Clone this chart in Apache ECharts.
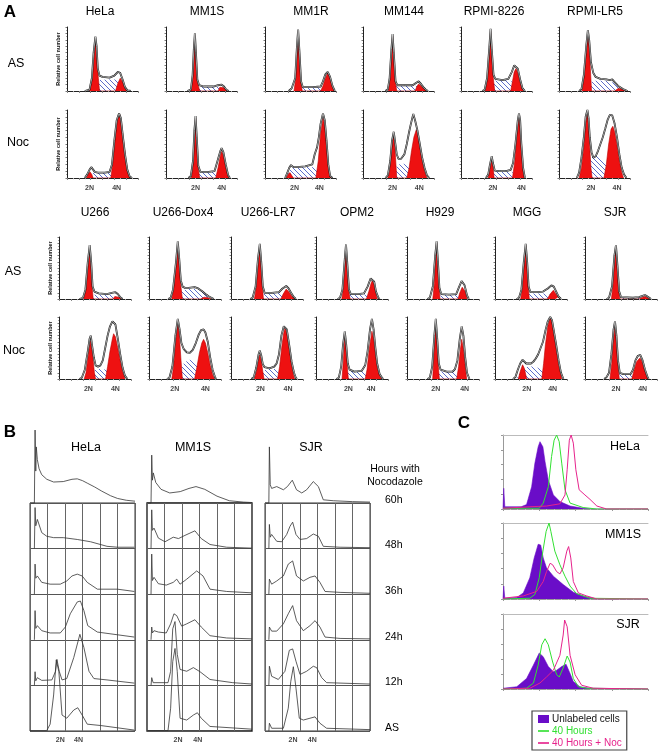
<!DOCTYPE html>
<html><head><meta charset="utf-8">
<script src="https://cdn.jsdelivr.net/npm/echarts@6/dist/echarts.min.js"></script>
<style>html,body{margin:0;padding:0;background:#fff}#c{width:662px;height:754px}</style>
</head><body><div id="c"></div><script>
// ===================== DATA =====================
const topCells = ['HeLa','MM1S','MM1R','MM144','RPMI-8226','RPMI-LR5'];
const botCells = ['U266','U266-Dox4','U266-LR7','OPM2','H929','MGG','SJR'];
const rowNames = ['AS','Noc'];
const ploidyLabels = ['2N','4N'];
const topPloidyX = [[19,42],[25,47],[25,46],[25,47.5],[27,51],[27,49]];
const botPloidyX = [[24.5,47],[21.5,47],[24.5,47.5],[27,46],[24,48],[26.5,48],[25.8,48]];

// --- Panel A, top group, AS row ---
const topAsOutline = [
 [[15,0],[19,2],[21,20],[22.5,60],[24,85],[25,70],[26,35],[27.5,24],[30,22],[36,21],[40,24],[43,30],[45,28],[47,18],[49,6],[51,1],[54,0]],
 [[18,0],[21,2],[22.5,25],[23.5,65],[24.4,90],[25.3,60],[26.5,18],[28,9],[32,7],[40,7],[44,9],[47,10],[49,7],[51,2],[53,0]],
 [[20,0],[22.5,4],[24,4],[25.5,20],[27,70],[28,96],[29,65],[30.5,15],[32,6],[40,6],[47,7],[49,15],[51,26],[53,30],[55,22],[57,8],[59,0]],
 [[19,0],[21,3],[22.5,20],[24,65],[25,89],[26,60],[27.5,15],[29,9],[35,9],[42,9],[45,13],[47,15],[49,11],[51,6],[53,2],[55,0]],
 [[18,0],[20,2],[22,20],[24,70],[25,97],[26,65],[27.5,25],[29,19],[35,17],[40,19],[43,30],[45,40],[46.5,42],[48,35],[50,18],[52,4],[54,0]],
 [[17,0],[19,3],[21,25],[23,70],[24.4,95],[25.5,80],[27,45],[29,28],[31,22],[35,19],[40,18],[43,17],[45,18],[47,14],[50,8],[54,3],[58,0]]
];
const topAsRed = [
 [[19,0],[21.5,20],[23,55],[24,78],[25,60],[26.5,20],[27.5,0],[41,0],[43,12],[45,20],[47,14],[49,4],[51,0]],
 [[21,0],[22.5,20],[23.5,60],[24.4,87],[25.3,55],[26.5,15],[28.5,0],[44,0],[45.5,6],[47,9],[49,5],[52,0]],
 [[24.5,0],[26,20],[27.2,65],[28,93],[29,60],[30.3,15],[31.5,0],[47,0],[49,8],[51,20],[53,28],[55,20],[57,6],[59,0]],
 [[21.5,0],[23,20],[24.2,65],[25,86],[26,55],[27.3,15],[28.5,0],[44,0],[45.5,7],[47,11],[49,8],[51,4],[54,0]],
 [[20.5,0],[22.5,20],[24,65],[25,93],[26,60],[27.3,20],[28.5,0],[42,0],[43.5,15],[45,30],[46.5,35],[48,28],[50,13],[52.5,0]],
 [[19.5,0],[21,20],[23,60],[24.4,89],[25.5,70],[26.5,35],[27.5,0],[47,0],[50,4],[54,3],[58,0]]
];
const topAsS = [
 [[23,0],[25,10],[27,17],[35,18],[42,18],[46,12],[49,3],[50,0]],
 [[25,0],[27,5],[29,7],[40,7],[45,6],[49,2],[50,0]],
 [[28,0],[30,4],[32,6],[44,6],[50,5],[54,2],[55,0]],
 [[25,0],[27,6],[29,9],[42,9],[47,7],[50,2],[51,0]],
 [[24,0],[26,10],[28,16],[40,17],[44,14],[48,6],[50,0]],
 [[23,0],[25,8],[27,14],[30,16],[42,16],[47,12],[52,5],[55,0]]
];
// --- Panel A, top group, Noc row ---
const topNocOutline = [
 [[15,0],[17,5],[19,12],[20.5,16],[22,15],[23.5,9],[26,8],[32,8],[36,9],[38,20],[40,55],[42,85],[44,95],[45.5,88],[47,65],[49,35],[51,12],[53,2],[55,0]],
 [[19,0],[21,3],[22.8,25],[24,70],[25,91],[26,60],[27.3,18],[29,9],[36,9],[41,10],[43.5,25],[46,40],[47,44],[48.5,38],[50.5,20],[52.5,4],[54,0]],
 [[17,0],[18.5,6],[20.5,15],[22,19],[24,16],[27,16],[34,17],[40,20],[42,35],[44,45],[45.5,60],[47,80],[49,95],[50.5,85],[52,55],[53.5,20],[55,3],[57,0]],
 [[19,0],[21,4],[23,25],[24.5,55],[26,68],[27,55],[28.5,35],[30,28],[32,28],[35,35],[37,50],[39,68],[40.5,80],[42.5,94],[44,85],[46,70],[48,50],[50,30],[52,15],[54,4],[56,0]],
 [[21,0],[23,5],[24.5,20],[26,32],[27,22],[28.5,11],[32,10],[38,10],[42,12],[44,22],[46,50],[48,85],[49,95],[50,85],[51,50],[52.5,15],[54,0]],
 [[15,0],[17,8],[19,30],[21,60],[22.5,90],[24,100],[25,88],[26,60],[27.5,38],[29,30],[31,32],[33,40],[35,50],[37,60],[39,72],[41,85],[43,93],[45,92],[47,80],[49,60],[51,35],[53,15],[55,5],[57,0]]
];
const topNocRed = [
 [[16.5,0],[18,6],[19.5,9],[21,5],[22,0],[37,0],[39,25],[41,65],[43,88],[44.5,93],[46,80],[48,50],[50,22],[52,5],[53.5,0]],
 [[21.5,0],[23,22],[24.2,68],[25,88],[26,55],[27.2,15],[28.5,0],[42,0],[44,15],[46,33],[47,39],[48.5,33],[50.5,15],[53,0]],
 [[18,0],[19.5,5],[21,8],[22.5,4],[24,0],[43,0],[45,25],[47,65],[49,88],[50.5,78],[52,50],[53.5,18],[55,3],[56,0]],
 [[21,0],[22.5,10],[24,40],[25.5,60],[26.5,55],[27.5,30],[28.5,0],[37,0],[39,15],[41,40],[43,60],[45,71],[46.5,65],[48,45],[50,25],[52,10],[54,0]],
 [[23,0],[24.5,14],[26,27],[27,18],[28,0],[43.5,0],[45.5,25],[47.5,70],[49,89],[50,75],[51,42],[52.5,10],[53.5,0]],
 [[17,0],[19,15],[21,45],[22.5,80],[24,95],[25,80],[26,45],[27,15],[28,0],[38,0],[40,20],[42,50],[44,72],[45.5,76],[47,68],[49,48],[51,25],[53,8],[54.5,0]]
];
const topNocS = [
 [[19,0],[21,6],[23,8],[36,8],[42,7],[46,3],[48,0]],
 [[25,0],[27,6],[29,9],[40,9],[44,7],[47,2],[48,0]],
 [[18.5,0],[20,8],[22,14],[25,16],[40,16],[45,10],[49,3],[51,0]],
 [[23,0],[26,12],[30,20],[34,21],[38,19],[42,14],[45,7],[47,0]],
 [[25,0],[27,8],[29,11],[40,11],[44,8],[47,2],[48,0]],
 [[19,0],[22,15],[26,28],[30,33],[34,32],[38,27],[42,18],[46,9],[50,2],[52,0]]
];
// --- Panel A, bottom group, AS row ---
const botAsOutline = [
 [[17,0],[20,2],[22,15],[24,60],[25.6,87],[26.8,60],[28,20],[29.5,12],[33,9],[40,8],[44,10],[47,11],[49,8],[51,3],[53,0]],
 [[16,0],[18,2],[20,15],[22.5,60],[24,93],[25.2,65],[26.5,30],[28,20],[30,18],[33,18],[38,19],[41,17],[44,13],[47,8],[50,4],[54,0]],
 [[16,0],[18,2],[20.5,20],[22.5,65],[24,89],[25.2,60],[26.5,20],[28,10],[34,10],[40,11],[43,17],[46,21],[48,17],[50,10],[52,4],[54,0]],
 [[18,0],[20,2],[22,15],[24,65],[25,88],[26,60],[27.5,15],[29,8],[35,8],[40,9],[43,20],[45.5,33],[47,36],[48.5,28],[50,12],[52,2],[53,0]],
 [[17,0],[19,2],[21.5,20],[23.5,70],[24.7,93],[25.8,60],[27,18],[28.5,8],[35,7],[41,8],[43.5,20],[45.5,29],[46.5,30],[48,22],[50,6],[51.5,0]],
 [[18,0],[20,2],[22,15],[24,60],[25.6,89],[26.8,60],[28,20],[29.5,11],[35,11],[40,12],[44,17],[47,22],[49,20],[51,12],[53,4],[55,0]],
 [[18,0],[20,2],[22.5,20],[24.5,70],[25.8,87],[27,55],[28.5,12],[30,3],[40,2],[45,3],[48,5],[50,6.5],[52,4],[55,0]]
];
const botAsRed = [
 [[20.5,0],[22.5,15],[24.3,55],[25.6,76],[26.8,50],[27.8,15],[28.5,0],[45,0],[46.5,4],[48,6],[50,3],[52,0]],
 [[19,0],[20.5,15],[22.5,55],[24,89],[25.2,60],[26.5,22],[27.8,0],[43,0],[46,3],[49,2],[52,0]],
 [[19.5,0],[21,18],[22.8,60],[24,86],[25.2,55],[26.3,18],[27,0],[41.6,0],[43.5,8],[46,16],[48,12],[50.5,5],[53,0]],
 [[21.5,0],[23,18],[24.2,65],[25,85],[26,55],[27.3,12],[28.5,0],[42,0],[44,12],[46,26],[47,30],[48.5,22],[50,8],[51,0]],
 [[21.5,0],[22.8,25],[24,75],[24.7,90],[25.6,60],[26.8,18],[27.5,0],[42.5,0],[44,10],[46,19],[47,21],[48.5,12],[50,0]],
 [[21.4,0],[23,18],[24.5,62],[25.6,86],[26.8,55],[27.8,18],[28.6,0],[43.6,0],[46,8],[48.6,14],[50.5,9],[52.5,3],[54,0]],
 [[22,0],[23.5,25],[25,72],[25.8,85],[26.8,55],[28,15],[29,0],[45,0],[48,3],[50,4],[52,2],[54,0]]
];
const botAsS = [
 [[25,0],[27,4],[29,7],[40,7.5],[45,6],[49,2],[50,0]],
 [[23,0],[25,8],[28,14],[34,16],[40,16],[45,11],[49,4],[51,0]],
 [[24,0],[26,6],[28,10],[40,10],[45,7],[49,2],[50,0]],
 [[25,0],[27,5],[29,7.5],[40,7.5],[43,5],[46,1],[46.5,0]],
 [[25,0],[27,5],[29,6.5],[41,6.5],[45,4],[48,0]],
 [[25,0],[27,6],[29,9],[42,9],[47,6],[50,2],[51,0]],
 [[27,0],[29,2],[35,2.5],[45,2.5],[50,1],[52,0]]
];
// --- Panel A, bottom group, Noc row ---
const botNocOutline = [
 [[17,0],[19,2],[21.5,15],[24,45],[25.5,65],[26.5,70],[27.5,55],[29,35],[30.5,22],[32.5,20],[34.5,22],[36.5,30],[38.5,50],[40.5,70],[42.5,85],[44.5,93],[45.5,95],[47,88],[49,65],[51,40],[53,18],[55,5],[57,0]],
 [[15,0],[17,2],[19.5,20],[22,70],[24,97],[25.5,80],[27,58],[29,48],[31.5,43],[34,42],[36.5,47],[39,58],[41.5,72],[43.5,79],[45.5,80],[47,75],[49,60],[51,35],[53,15],[55,3],[56,0]],
 [[17,0],[19,3],[21,18],[23,40],[24,46],[25.2,38],[26.5,24],[28,19],[32,17],[36,20],[38,25],[40,40],[42,70],[44,85],[45,88],[46.5,80],[48.5,55],[50.5,28],[52.5,10],[54,2],[55,0]],
 [[17,0],[19,2],[21,20],[22.5,55],[24,77],[25.2,55],[26.5,25],[28,15],[32,12],[38,13],[41,22],[43,45],[45,80],[46.6,97],[48,80],[49.5,50],[51,25],[53,8],[55,2],[56,0]],
 [[17,0],[19,2],[21,20],[22.8,70],[24,97],[25.2,65],[26.5,25],[28,15],[33,12],[38,12],[40,16],[42,30],[44,65],[45.6,85],[47,70],[48.5,35],[50,10],[52,0]],
 [[15,0],[17,3],[19,15],[21,25],[23,31],[24.5,28],[26,25],[28,25],[30,25],[32,28],[34,33],[36,40],[38,50],[40,60],[42,78],[44,93],[46,100],[47.5,95],[49,78],[51,55],[53,30],[55,10],[57,0]],
 [[16,0],[18,3],[20,10],[22,40],[23.8,80],[25,93],[26.2,70],[27.5,30],[29,10],[32,8],[38,8],[40,15],[42,30],[44,37],[46,39],[48,30],[50,15],[52,4],[53,0]]
];
const botNocRed = [
 [[21,0],[22.5,10],[24.5,40],[26,62],[27,60],[28,40],[29.5,10],[30.5,0],[38.8,0],[40.5,20],[42.5,45],[44.5,65],[45.5,73],[47,68],[49,50],[51,30],[53,12],[55,0]],
 [[19,0],[20.5,20],[22.5,65],[24,93],[25.3,70],[26.5,35],[27.8,0],[38,0],[40,20],[42,42],[44,58],[45.5,64],[47,58],[49,42],[51,22],[53,7],[54.6,0]],
 [[19.5,0],[21.5,15],[23,32],[24,39],[25.2,30],[26.5,12],[27.5,0],[38.8,0],[40.5,20],[42.5,55],[44,75],[45,82],[46.5,74],[48.5,48],[50.5,22],[52,7],[53,0]],
 [[21.7,0],[22.8,30],[24,72],[25.2,50],[26.3,15],[27,0],[41,0],[42.5,15],[44.5,50],[46.6,77],[48,65],[49.5,40],[51,18],[53,5],[54.7,0]],
 [[21.4,0],[22.5,40],[23.9,92],[25,60],[26.2,18],[27,0],[41.4,0],[43,20],[44.5,48],[45.6,64],[47,48],[48.5,20],[49.7,0]],
 [[19.4,0],[21,12],[23,23],[24.5,17],[26.4,0],[39,0],[40.5,25],[42,55],[44,85],[46,99],[47.5,92],[49,72],[51,48],[53,22],[55,6],[55.6,0]],
 [[20.8,0],[22.3,25],[23.8,65],[25,83],[26.2,60],[27.5,22],[28.6,0],[39,0],[41,15],[43,28],[45.8,34],[47.5,28],[49.5,15],[51.5,4],[52.7,0]]
];
const botNocS = [
 [[23.6,0],[26,8],[29,14],[33,16],[37,16],[41,13],[45,8],[49,3],[52,0]],
 [[22,0],[25,12],[29,25],[33,31],[37,30],[41,24],[45,14],[48,6],[50,0]],
 [[22,0],[24,8],[27,14],[32,16],[38,16],[43,12],[47,5],[50,0]],
 [[23,0],[25,9],[28,13],[38,13.6],[42,10],[45,4],[47,0]],
 [[23,0],[25,8],[28,12],[38,12],[42,8],[45,2],[46,0]],
 [[18,0],[20,8],[23,16],[28,20],[33,20],[38,16],[42,10],[45,4],[47,0]],
 [[25,0],[27,5],[29,8],[38,8],[42,6],[47,2],[50,0]]
];

// --- Panel B: hours with nocodazole, one trace per row (60h .. AS) ---
const bCells = ['HeLa','MM1S','SJR'];
const bHours = ['60h','48h','36h','24h','12h','AS'];
const bPloidyX = [[17.3,27.7],[17.7,29],[16,27]];
const bHela = [
 [[0,0],[2.5,0],[2.9,160],[3.3,70],[3.6,123],[4.2,95],[5.2,75],[6.7,62],[9.6,52],[13.5,46],[19,47],[24,52],[27,53],[30,49],[33,43],[37,35],[41,26],[46,16],[50,10],[55,6],[60,4]],
 [[2.5,0],[2.9,90],[3.3,50],[4.2,64],[6.7,35],[9.6,27],[13.5,24],[19,24],[27,20],[34.6,15],[44,5],[50,3],[59.6,3]],
 [[2.5,0],[2.9,66],[3.3,35],[4.2,40],[6.7,26],[11.5,22],[17.3,22],[21,29],[24,40],[27,44],[29.8,40],[32.7,26],[38.5,11],[50,11],[59.6,6]],
 [[2.5,0],[2.9,64],[3.3,25],[4.2,31],[6.7,20],[11.5,15],[17.3,15],[20.2,28],[23,57],[27,83],[28.8,85],[30.8,64],[33,31],[38.5,17],[50,11],[59.6,6]],
 [[2.5,0],[2.9,30],[3.3,10],[4.2,17],[6.7,11],[12.5,12],[14.6,31],[15.4,57],[16.7,31],[18.3,12],[21,15],[25,61],[28.5,112],[30.8,83],[33.7,31],[36.5,15],[44,12],[59.6,5]],
 [[0,1],[9.6,1],[11.5,15],[13.5,79],[15,156],[16.5,130],[18.3,35],[21,28],[25,46],[27.3,51],[29.8,35],[32.7,15],[40.4,12],[59.6,2]]
];
const bMm1s = [
 [[0,0],[2.3,0],[2.7,105],[3.1,50],[3.6,66],[5,45],[8,30],[13,22],[19,25],[24,32],[28,36],[33,30],[40,15],[47,5],[55,2],[60,1]],
 [[2.3,0],[2.7,85],[3.1,40],[4,45],[6.5,23],[10.3,15],[15,25],[18,22],[21.7,29],[27.4,39],[31,22],[36,9],[45.5,3],[60,1]],
 [[2.3,0],[2.7,88],[3.1,30],[4,37],[6.5,23],[11,20],[15,26],[17,33],[18.9,22],[22.7,33],[28.4,51],[32,40],[36,11],[45.5,6],[60,3]],
 [[2.3,0],[2.7,28],[3.1,15],[4,20],[6.5,17],[11,15],[13.5,35],[15.4,57],[17,53],[19.8,30],[22.7,35],[27.4,44],[31,28],[36,9],[45.5,4],[60,2]],
 [[2.3,0],[2.7,17],[3.5,6],[12,6],[13.5,31],[14.7,124],[16,140],[17.3,68],[18.9,35],[22.7,31],[26.5,39],[30.3,30],[36,13],[49,6],[60,3]],
 [[0,1],[12,1],[13.5,50],[14.7,152],[16,181],[17.3,130],[18.9,28],[22.7,24],[26.5,35],[28.8,40],[31,28],[36,10],[60,4]]
];
const bSjr = [
 [[0,0],[2.2,0],[2.5,123],[3,40],[3.8,32],[6.7,36],[10.5,29],[12.8,36],[15.6,50],[18,29],[21,22],[23.8,29],[27.6,47],[30.5,36],[33.3,7],[39,5],[50,3],[60,2]],
 [[2.2,0],[2.5,53],[3,25],[3.8,31],[6.7,16],[9.5,15],[12.4,31],[14.3,49],[15.8,58],[17.7,31],[20,20],[23.8,22],[27.6,32],[30.5,27],[33.3,5],[42.9,3],[60,2]],
 [[2.2,0],[2.5,33],[3.8,22],[6.7,29],[10.5,40],[13.3,66],[15.8,73],[18,40],[21.9,29],[25.7,37],[28.6,40],[31.4,26],[34.3,6],[42.9,4],[60,2]],
 [[2.2,0],[2.5,28],[3.8,19],[6.7,19],[10.5,35],[13.3,57],[15.8,75],[18,42],[21.9,20],[25.7,31],[28.6,42],[31.4,28],[34.3,6],[42.9,3],[60,2]],
 [[2.2,0],[2.5,42],[3.8,20],[7.6,13],[11.4,31],[13.9,77],[15.8,80],[17.7,53],[20,24],[23.8,31],[27.6,42],[29.5,39],[32.4,17],[35.2,6],[60,3]],
 [[2.2,0],[2.5,17],[3.8,6],[10.5,6],[13.3,50],[14.7,108],[16.2,141],[17.7,94],[19.6,28],[21.9,24],[25.7,28],[28.6,31],[31.4,17],[35.2,6],[60,3]]
];

// --- Panel C: log fluorescence (decades 0..4) ---
const cCells = ['HeLa','MM1S','SJR'];
const cSeriesNames = ['Unlabeled cells','40 Hours','40 Hours + Noc'];
const cUnlabeled = [
 [[0,0],[0.02,28],[0.05,3],[0.5,3],[0.65,6],[0.79,30],[0.88,62],[0.97,84],[1.02,91],[1.1,84],[1.16,64],[1.25,39],[1.39,19],[1.57,10],[1.85,4],[2.21,1],[2.5,0],[4,0]],
 [[0,0],[0.02,17],[0.05,1],[0.38,2],[0.56,8],[0.74,28],[0.86,54],[0.97,72],[1.04,71],[1.11,54],[1.2,41],[1.39,30],[1.66,19],[1.94,9],[2.21,4],[2.59,0],[4,0]],
 [[0,1],[0.38,3],[0.65,14],[0.84,32],[1.0,48],[1.11,43],[1.25,30],[1.39,23],[1.48,25],[1.62,30],[1.74,33],[1.83,23],[1.94,10],[2.12,3],[2.4,1],[4,0]]
];
const c40h = [
 [[0,1],[1,1],[1.11,8],[1.25,30],[1.34,71],[1.41,93],[1.48,100],[1.55,91],[1.62,62],[1.71,26],[1.85,8],[2.21,2],[2.59,0],[4,0]],
 [[0,0],[0.74,1],[0.88,6],[1.0,28],[1.1,63],[1.19,89],[1.27,100],[1.32,89],[1.43,63],[1.57,45],[1.71,30],[1.85,17],[2.03,7],[2.4,1],[4,0]],
 [[0,0],[0.65,1],[0.84,8],[0.97,32],[1.07,59],[1.16,67],[1.25,59],[1.37,36],[1.48,19],[1.55,16],[1.66,28],[1.77,44],[1.85,36],[1.94,14],[2.08,3],[2.31,1],[4,0]]
];
const c40hNoc = [
 [[0,1],[0.74,3],[1.2,4],[1.57,7],[1.71,19],[1.77,53],[1.83,93],[1.88,100],[1.94,89],[2.01,53],[2.1,26],[2.26,19],[2.4,13],[2.59,4],[2.86,0],[4,0]],
 [[0,1],[0.56,4],[0.93,10],[1.11,23],[1.2,36],[1.3,47],[1.37,45],[1.48,36],[1.57,33],[1.66,41],[1.76,63],[1.81,69],[1.87,54],[1.94,23],[2.08,8],[2.31,4],[2.59,0],[4,0]],
 [[0,0],[0.74,1],[1.02,8],[1.2,16],[1.39,25],[1.57,45],[1.66,72],[1.7,92],[1.77,83],[1.85,45],[1.99,19],[2.17,5],[2.49,1],[4,0]]
];

// ===================== LAYOUT / STYLE =====================
const FONT = '"Liberation Sans", Arial, Helvetica, sans-serif';
const topLeft = [67,166,265,363,461,559], topW = 71, topTitleX = [100,207,311,404,494,595];
const botLeft = [59,149,231,316,407,495,585], botW = 72, botTitleX = [95,183,268,357,440,527,615];
const aRows = {topAS:{top:27,height:64}, topNoc:{top:110,height:68}, botAS:{top:237,height:62}, botNoc:{top:317,height:62}};
const bLeft = [30,147,265], bW = 105, bTop = 503, bRow = 45.6;
const cLeft = 503, cW = 145, cBoxes = [{top:435,height:74},{top:523,height:76},{top:614,height:75}];
const RED = '#ee1111', PURPLE = '#6a0dc8', GREEN = '#33e033', MAGENTA = '#e6238c';

// hatch pattern for S phase
const hatch = document.createElement('canvas');
hatch.width = 5; hatch.height = 5;
(function(){ const c = hatch.getContext('2d'); c.fillStyle = '#fff'; c.fillRect(0,0,5,5);
  c.strokeStyle = '#4a5cc4'; c.lineWidth = 0.9; c.beginPath();
  c.moveTo(0,0); c.lineTo(5,5); c.moveTo(-1,4); c.lineTo(1,6); c.moveTo(4,-1); c.lineTo(6,1); c.stroke(); })();

const grid = [], xAxis = [], yAxis = [], series = [], graphic = [];
function addGrid(box, xa, ya){
  const gi = grid.length;
  grid.push(Object.assign({containLabel:false}, box));
  xAxis.push(Object.assign({gridIndex:gi, type:'value'}, xa));
  yAxis.push(Object.assign({gridIndex:gi, type:'value'}, ya));
  return {gi, xi:xAxis.length-1, yi:yAxis.length-1};
}
function txt(x, y, t, o){
  const st = Object.assign({text:t, fontFamily:FONT, fontSize:12, fill:'#000', textAlign:'center', textVerticalAlign:'middle', align:'center', verticalAlign:'middle'}, o||{});
  graphic.push({type:'text', x:x, y:y, silent:true, style:st});
}
const hidden = {show:false};
function ploidyMarks(g, xs, dist){
  series.push({type:'scatter', xAxisIndex:g.xi, yAxisIndex:g.yi, symbolSize:1, silent:true, animation:false,
    itemStyle:{color:'rgba(0,0,0,0)'}, data: xs.map((x,k)=>[x,0,ploidyLabels[k]]),
    label:{show:true, position:'bottom', distance:dist, formatter:p=>p.value[2], fontSize:7, fontWeight:'bold', fontFamily:FONT, color:'#111'}});
}

// ---------- Panel A ----------
function plotA(left, w, row, outline, red, s, withName, marks){
  const g = addGrid({left:left, top:row.top, width:w, height:row.height},
    {min:0, max:60, interval:10, axisLine:{show:true, lineStyle:{color:'#222', width:1}}, axisTick:{show:true, length:2, lineStyle:{color:'#888'}},
     minorTick:{show:true, splitNumber:2, length:1.2, lineStyle:{color:'#aaa'}}, axisLabel:hidden, splitLine:hidden},
    {min:0, max:100, interval:10, axisLine:{show:true, lineStyle:{color:'#222', width:1}}, axisTick:{show:true, length:1.5, lineStyle:{color:'#777'}},
     minorTick:{show:true, splitNumber:2, length:1, lineStyle:{color:'#aaa'}}, axisLabel:hidden, splitLine:hidden,
     name: withName ? 'Relative cell number' : '', nameLocation:'middle', nameGap:6,
     nameTextStyle:{fontSize:5.5, fontWeight:'bold', fontFamily:FONT, color:'#111'}});
  const base = {type:'line', xAxisIndex:g.xi, yAxisIndex:g.yi, symbol:'none', silent:true, animation:false};
  series.push(Object.assign({}, base, {data:s, lineStyle:{width:0}, areaStyle:{color:{image:hatch, repeat:'repeat'}, opacity:1}}));
  series.push(Object.assign({}, base, {data:red, lineStyle:{width:0.6, color:'#b00'}, areaStyle:{color:RED, opacity:1}}));
  series.push(Object.assign({}, base, {data:outline, lineStyle:{width:1.8, color:'#111'}}));
  series.push(Object.assign({}, base, {data:outline, lineStyle:{width:0.6, color:'#fff'}}));
  if (marks) ploidyMarks(g, marks, 6);
}
topCells.forEach((n,i)=>{
  plotA(topLeft[i], topW, aRows.topAS, topAsOutline[i], topAsRed[i], topAsS[i], i===0, null);
  plotA(topLeft[i], topW, aRows.topNoc, topNocOutline[i], topNocRed[i], topNocS[i], i===0, topPloidyX[i]);
  txt(topTitleX[i], 12, n, {fontSize:12});
});
botCells.forEach((n,i)=>{
  plotA(botLeft[i], botW, aRows.botAS, botAsOutline[i], botAsRed[i], botAsS[i], i===0, null);
  plotA(botLeft[i], botW, aRows.botNoc, botNocOutline[i], botNocRed[i], botNocS[i], i===0, botPloidyX[i]);
  txt(botTitleX[i], 213, n, {fontSize:12});
});
txt(10, 12, 'A', {fontSize:17, fontWeight:'bold'});
txt(16, 64, rowNames[0], {fontSize:12.5});
txt(18, 143, rowNames[1], {fontSize:12.5});
txt(13, 272, rowNames[0], {fontSize:12.5});
txt(14, 351, rowNames[1], {fontSize:12.5});

// ---------- Panel B ----------
const bData = [bHela, bMm1s, bSjr];
bCells.forEach((n,ci)=>{
  addGrid({left:bLeft[ci], top:bTop, width:bW, height:bRow*5, show:true, borderColor:ci===1?'#111':'#333', borderWidth:ci===1?1.3:1},
    {min:0, max:60, interval:10, axisLine:hidden, axisTick:hidden, axisLabel:hidden, splitLine:{show:true, lineStyle:{color:'#666', width:1}}},
    {min:0, max:5, interval:1, axisLine:hidden, axisTick:hidden, axisLabel:hidden, splitLine:{show:true, lineStyle:{color:'#555', width:1}}});
  bData[ci].forEach((trace, r)=>{
    const base = bTop + r*bRow;
    const g = addGrid({left:bLeft[ci], top:base - bRow, width:bW, height:bRow},
      {min:0, max:60, show:false}, {min:0, max:100, show:false});
    series.push({type:'line', xAxisIndex:g.xi, yAxisIndex:g.yi, data:trace, symbol:'none', clip:false, silent:true, animation:false,
      lineStyle:{width:0.8, color:'#333'}});
    if (r === 5) ploidyMarks(g, bPloidyX[ci], 5);
  });
});
txt(10, 432, 'B', {fontSize:17, fontWeight:'bold'});
txt(86, 448, bCells[0], {fontSize:12.5});
txt(193, 448, bCells[1], {fontSize:12.5});
txt(311, 448, bCells[2], {fontSize:12.5});
txt(395, 469, 'Hours with', {fontSize:10.5});
txt(395, 482, 'Nocodazole', {fontSize:10.5});
bHours.forEach((h,r)=>{ txt(385, bTop + r*bRow - 3, h, {fontSize:10.5, textAlign:'left', align:'left'}); });

// ---------- Panel C ----------
cCells.forEach((n,ci)=>{
  const box = cBoxes[ci];
  const g = addGrid({left:cLeft, top:box.top, width:cW, height:box.height},
    {min:0, max:4, interval:1, axisLine:{show:true, lineStyle:{color:'#999', width:1}}, axisTick:{show:true, length:2, lineStyle:{color:'#999'}},
     minorTick:{show:true, splitNumber:5, length:1, lineStyle:{color:'#bbb'}}, axisLabel:hidden, splitLine:hidden},
    {min:0, max:100, interval:20, axisLine:{show:true, lineStyle:{color:'#999', width:1}}, axisTick:{show:true, length:2, lineStyle:{color:'#999'}},
     axisLabel:hidden, splitLine:hidden});
  xAxis.push({gridIndex:g.gi, type:'value', position:'top', min:0, max:4, axisLine:{show:true, lineStyle:{color:'#bbb', width:1}}, axisTick:hidden, axisLabel:hidden, splitLine:hidden});
  const base = {type:'line', xAxisIndex:g.xi, yAxisIndex:g.yi, symbol:'none', silent:true, animation:false};
  series.push(Object.assign({}, base, {name:cSeriesNames[0], data:cUnlabeled[ci], itemStyle:{color:PURPLE}, lineStyle:{width:0.6, color:PURPLE}, areaStyle:{color:PURPLE, opacity:1}}));
  series.push(Object.assign({}, base, {name:cSeriesNames[1], data:c40h[ci], itemStyle:{color:GREEN}, lineStyle:{width:1, color:GREEN}}));
  series.push(Object.assign({}, base, {name:cSeriesNames[2], data:c40hNoc[ci], itemStyle:{color:MAGENTA}, lineStyle:{width:1, color:MAGENTA}}));
});
txt(464, 423, 'C', {fontSize:17, fontWeight:'bold'});
txt(625, 447, cCells[0], {fontSize:12.5});
txt(623, 535, cCells[1], {fontSize:12.5});
txt(628, 625, cCells[2], {fontSize:12.5});

const lineIcon = 'path://M0,0L20,0L20,3L0,3Z';
const option = {
  animation:false,
  backgroundColor:'#fff',
  grid, xAxis, yAxis, series, graphic,
  legend:{left:532, top:711, orient:'vertical', itemGap:2, itemWidth:11, itemHeight:8, padding:[3,5,2,6],
    borderColor:'#444', borderWidth:1.2, backgroundColor:'#fff', selectedMode:false, symbolKeepAspect:true,
    textStyle:{fontSize:10, fontFamily:FONT, padding:[0,0,0,-2]},
    data:[
      {name:cSeriesNames[0], icon:'rect', textStyle:{color:'#111'}},
      {name:cSeriesNames[1], icon:lineIcon, textStyle:{color:GREEN}},
      {name:cSeriesNames[2], icon:lineIcon, textStyle:{color:MAGENTA}}
    ]}
};
const chart = echarts.init(document.getElementById('c'), null, {renderer:'canvas'});
chart.setOption(option);
</script></body></html>
